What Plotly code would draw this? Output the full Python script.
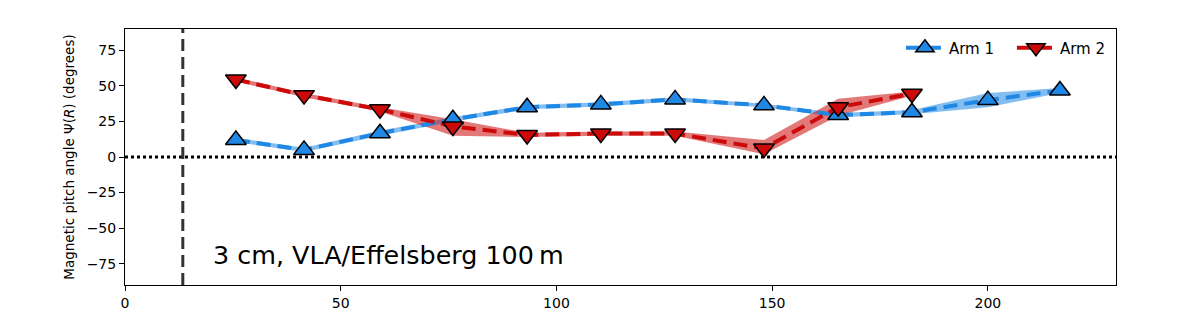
import plotly.graph_objects as go

# Arm 1 data
arm1_r = [25.7, 41.5, 59.1, 76.0, 93.2, 110.3, 127.5, 148.1, 165.3, 182.4, 200.0, 216.7]
arm1_psi = [12.0, 5.0, 16.7, 26.5, 35.0, 37.0, 40.5, 36.3, 29.5, 31.5, 40.0, 46.8]
arm1_lo = [10.5, 3.5, 15.0, 25.0, 33.5, 35.5, 39.0, 35.0, 28.0, 30.0, 35.0, 45.0]
arm1_hi = [13.5, 6.5, 18.5, 28.0, 36.5, 38.5, 42.0, 37.5, 31.0, 33.0, 45.0, 48.5]

# Arm 2 data
arm2_r = [25.7, 41.5, 59.1, 76.0, 93.2, 110.3, 127.5, 148.1, 165.3, 182.4]
arm2_psi = [54.5, 43.5, 33.5, 21.5, 15.5, 16.5, 16.5, 6.0, 35.0, 44.5]
arm2_lo = [53.0, 42.0, 32.0, 15.0, 14.0, 15.0, 15.0, 2.0, 29.0, 43.0]
arm2_hi = [56.0, 45.0, 35.0, 26.5, 17.0, 18.0, 18.0, 12.0, 41.0, 46.0]

r_inner = 13.4
label = "3 cm, VLA/Effelsberg 100\u2009m"

blue = "#1f88e5"
red = "#cc0a0a"

fig = go.Figure()

def band(x, lo, hi, color):
    fig.add_trace(go.Scatter(
        x=list(x) + list(x)[::-1], y=list(lo) + list(hi)[::-1],
        fill="toself", fillcolor=color, line=dict(width=0),
        mode="lines", hoverinfo="skip", showlegend=False))

band(arm1_r, arm1_lo, arm1_hi, "rgba(31,136,229,0.55)")
band(arm2_r, arm2_lo, arm2_hi, "rgba(204,10,10,0.55)")

fig.add_trace(go.Scatter(
    x=arm1_r, y=arm1_psi, mode="lines+markers", name="Arm 1",
    line=dict(color=blue, width=4, dash="14px,7px"),
    marker=dict(symbol="triangle-up", size=18, color=blue,
                line=dict(color="black", width=1.5))))
fig.add_trace(go.Scatter(
    x=arm2_r, y=arm2_psi, mode="lines+markers", name="Arm 2",
    line=dict(color=red, width=4, dash="14px,7px"),
    marker=dict(symbol="triangle-down", size=18, color=red,
                line=dict(color="black", width=1.5))))

fig.add_shape(type="line", xref="paper", x0=0, x1=1, yref="y", y0=0, y1=0,
              line=dict(color="black", width=3, dash="dot"), layer="below")
fig.add_shape(type="line", xref="x", x0=r_inner, x1=r_inner, yref="paper", y0=0, y1=1,
              line=dict(color="#333333", width=3, dash="12px,6px"))

fig.add_annotation(x=20, y=-69, xref="x", yref="y", text=label, showarrow=False,
                   xanchor="left", yanchor="middle",
                   font=dict(size=25.4, color="black"))

axis_common = dict(showgrid=False, zeroline=False, showline=True, linecolor="black",
                   linewidth=1, mirror=True, ticks="outside", ticklen=5,
                   tickcolor="black", tickfont=dict(size=14, color="black"))

fig.update_xaxes(range=[0, 229.7], tickvals=[0, 50, 100, 150, 200], **axis_common)
fig.update_yaxes(range=[-90, 90], tickvals=[-75, -50, -25, 0, 25, 50, 75],
                 title=dict(text="Magnetic pitch angle \u03a8(<i>R</i>) (degrees)",
                            font=dict(size=13.5, color="black"), standoff=8),
                 **axis_common)

fig.update_layout(
    width=1196, height=315,
    margin=dict(l=117, r=88, t=21, b=36),
    plot_bgcolor="white", paper_bgcolor="white",
    font=dict(family="DejaVu Sans", color="black"),
    legend=dict(x=1.007, y=0.99, xanchor="right", yanchor="top",
                orientation="h", font=dict(size=15), bgcolor="rgba(0,0,0,0)",
                entrywidth=58, itemwidth=38),
)

fig.write_html("out.html")
